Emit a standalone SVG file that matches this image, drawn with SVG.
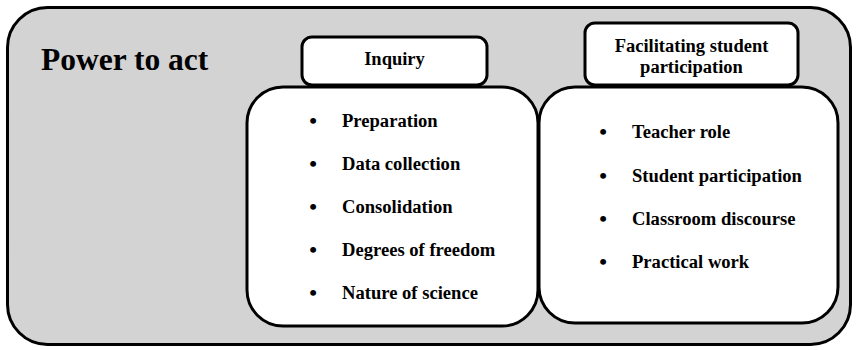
<svg xmlns="http://www.w3.org/2000/svg" width="857" height="350" viewBox="0 0 857 350">
  <style>
    .box { fill: #ffffff; stroke: #000000; stroke-width: 3; }
    .frame { fill: #d3d3d3; stroke: #000000; stroke-width: 3; }
    text { font-family: "Liberation Serif", "Times New Roman", serif; font-weight: bold; fill: #000000; }
    .title { font-size: 31.5px; }
    .head { font-size: 18.5px; text-anchor: middle; }
    .item { font-size: 18.6px; }
    .dot { font-size: 22px; text-anchor: middle; }
  </style>

  <!-- outer frame -->
  <g id="power-to-act">
    <rect class="frame" x="7.5" y="7.5" width="843" height="337" rx="40" ry="40"/>
    <text class="title" x="41" y="70">Power to act</text>
  </g>

  <!-- Inquiry header -->
  <g id="inquiry-header">
    <rect class="box" x="302" y="37" width="185" height="48" rx="10" ry="10"/>
    <text class="head" x="394.5" y="65">Inquiry</text>
  </g>

  <!-- Inquiry list -->
  <g id="inquiry-list">
    <rect class="box" x="247" y="87" width="291" height="239" rx="36" ry="36"/>
    <text class="dot" x="313" y="128">•</text>
    <text class="item" x="342" y="127">Preparation</text>
    <text class="dot" x="313" y="171">•</text>
    <text class="item" x="342" y="170">Data collection</text>
    <text class="dot" x="313" y="214">•</text>
    <text class="item" x="342" y="213">Consolidation</text>
    <text class="dot" x="313" y="257">•</text>
    <text class="item" x="342" y="256">Degrees of freedom</text>
    <text class="dot" x="313" y="300">•</text>
    <text class="item" x="342" y="299">Nature of science</text>
  </g>

  <!-- Facilitating student participation header -->
  <g id="facilitating-header">
    <rect class="box" x="585" y="23" width="213" height="62" rx="10" ry="10"/>
    <text class="head" x="691.5" y="52">Facilitating student</text>
    <text class="head" x="691.5" y="73">participation</text>
  </g>

  <!-- Facilitating student participation list -->
  <g id="facilitating-list">
    <rect class="box" x="539" y="87" width="299" height="236" rx="36" ry="36"/>
    <text class="dot" x="603" y="139">•</text>
    <text class="item" x="632" y="138">Teacher role</text>
    <text class="dot" x="603" y="183">•</text>
    <text class="item" x="632" y="182">Student participation</text>
    <text class="dot" x="603" y="226">•</text>
    <text class="item" x="632" y="225">Classroom discourse</text>
    <text class="dot" x="603" y="269">•</text>
    <text class="item" x="632" y="268">Practical work</text>
  </g>

  <!-- no connectors in this figure -->
  <g id="connectors"/>
</svg>
